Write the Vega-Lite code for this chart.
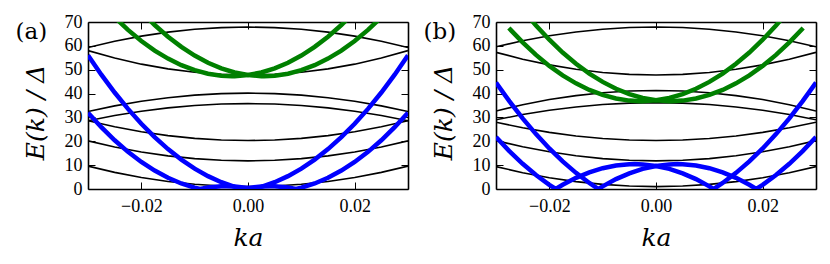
{
  "$schema": "https://vega.github.io/schema/vega-lite/v6.json",
  "padding": {"left": 15, "top": 13, "right": 5, "bottom": 5},
  "background": "white",
  "data": {"values": [
    {"p":"a","f":"bulk","c":"B1","k":-0.03,"E":9.6},{"p":"a","f":"bulk","c":"B1","k":-0.025,"E":6.97},{"p":"a","f":"bulk","c":"B1","k":-0.02,"E":4.82},{"p":"a","f":"bulk","c":"B1","k":-0.015,"E":3.15},{"p":"a","f":"bulk","c":"B1","k":-0.01,"E":1.96},{"p":"a","f":"bulk","c":"B1","k":-0.005,"E":1.24},{"p":"a","f":"bulk","c":"B1","k":0,"E":1.0},{"p":"a","f":"bulk","c":"B1","k":0.005,"E":1.24},{"p":"a","f":"bulk","c":"B1","k":0.01,"E":1.96},{"p":"a","f":"bulk","c":"B1","k":0.015,"E":3.15},{"p":"a","f":"bulk","c":"B1","k":0.02,"E":4.82},{"p":"a","f":"bulk","c":"B1","k":0.025,"E":6.97},{"p":"a","f":"bulk","c":"B1","k":0.03,"E":9.6},
    {"p":"a","f":"bulk","c":"B2","k":-0.03,"E":20.2},{"p":"a","f":"bulk","c":"B2","k":-0.025,"E":17.63},{"p":"a","f":"bulk","c":"B2","k":-0.02,"E":15.53},{"p":"a","f":"bulk","c":"B2","k":-0.015,"E":13.9},{"p":"a","f":"bulk","c":"B2","k":-0.01,"E":12.73},{"p":"a","f":"bulk","c":"B2","k":-0.005,"E":12.03},{"p":"a","f":"bulk","c":"B2","k":0,"E":11.8},{"p":"a","f":"bulk","c":"B2","k":0.005,"E":12.03},{"p":"a","f":"bulk","c":"B2","k":0.01,"E":12.73},{"p":"a","f":"bulk","c":"B2","k":0.015,"E":13.9},{"p":"a","f":"bulk","c":"B2","k":0.02,"E":15.53},{"p":"a","f":"bulk","c":"B2","k":0.025,"E":17.63},{"p":"a","f":"bulk","c":"B2","k":0.03,"E":20.2},
    {"p":"a","f":"bulk","c":"B3","k":-0.03,"E":28.6},{"p":"a","f":"bulk","c":"B3","k":-0.025,"E":26.06},{"p":"a","f":"bulk","c":"B3","k":-0.02,"E":23.99},{"p":"a","f":"bulk","c":"B3","k":-0.015,"E":22.38},{"p":"a","f":"bulk","c":"B3","k":-0.01,"E":21.22},{"p":"a","f":"bulk","c":"B3","k":-0.005,"E":20.53},{"p":"a","f":"bulk","c":"B3","k":0,"E":20.3},{"p":"a","f":"bulk","c":"B3","k":0.005,"E":20.53},{"p":"a","f":"bulk","c":"B3","k":0.01,"E":21.22},{"p":"a","f":"bulk","c":"B3","k":0.015,"E":22.38},{"p":"a","f":"bulk","c":"B3","k":0.02,"E":23.99},{"p":"a","f":"bulk","c":"B3","k":0.025,"E":26.06},{"p":"a","f":"bulk","c":"B3","k":0.03,"E":28.6},
    {"p":"a","f":"bulk","c":"B4","k":-0.03,"E":28.6},{"p":"a","f":"bulk","c":"B4","k":-0.025,"E":30.8},{"p":"a","f":"bulk","c":"B4","k":-0.02,"E":32.6},{"p":"a","f":"bulk","c":"B4","k":-0.015,"E":34.0},{"p":"a","f":"bulk","c":"B4","k":-0.01,"E":35.0},{"p":"a","f":"bulk","c":"B4","k":-0.005,"E":35.6},{"p":"a","f":"bulk","c":"B4","k":0,"E":35.8},{"p":"a","f":"bulk","c":"B4","k":0.005,"E":35.6},{"p":"a","f":"bulk","c":"B4","k":0.01,"E":35.0},{"p":"a","f":"bulk","c":"B4","k":0.015,"E":34.0},{"p":"a","f":"bulk","c":"B4","k":0.02,"E":32.6},{"p":"a","f":"bulk","c":"B4","k":0.025,"E":30.8},{"p":"a","f":"bulk","c":"B4","k":0.03,"E":28.6},
    {"p":"a","f":"bulk","c":"B5","k":-0.03,"E":32.5},{"p":"a","f":"bulk","c":"B5","k":-0.025,"E":34.85},{"p":"a","f":"bulk","c":"B5","k":-0.02,"E":36.78},{"p":"a","f":"bulk","c":"B5","k":-0.015,"E":38.28},{"p":"a","f":"bulk","c":"B5","k":-0.01,"E":39.34},{"p":"a","f":"bulk","c":"B5","k":-0.005,"E":39.99},{"p":"a","f":"bulk","c":"B5","k":0,"E":40.2},{"p":"a","f":"bulk","c":"B5","k":0.005,"E":39.99},{"p":"a","f":"bulk","c":"B5","k":0.01,"E":39.34},{"p":"a","f":"bulk","c":"B5","k":0.015,"E":38.28},{"p":"a","f":"bulk","c":"B5","k":0.02,"E":36.78},{"p":"a","f":"bulk","c":"B5","k":0.025,"E":34.85},{"p":"a","f":"bulk","c":"B5","k":0.03,"E":32.5},
    {"p":"a","f":"bulk","c":"B6","k":-0.03,"E":58.0},{"p":"a","f":"bulk","c":"B6","k":-0.025,"E":54.88},{"p":"a","f":"bulk","c":"B6","k":-0.02,"E":52.33},{"p":"a","f":"bulk","c":"B6","k":-0.015,"E":50.35},{"p":"a","f":"bulk","c":"B6","k":-0.01,"E":48.93},{"p":"a","f":"bulk","c":"B6","k":-0.005,"E":48.08},{"p":"a","f":"bulk","c":"B6","k":0,"E":47.8},{"p":"a","f":"bulk","c":"B6","k":0.005,"E":48.08},{"p":"a","f":"bulk","c":"B6","k":0.01,"E":48.93},{"p":"a","f":"bulk","c":"B6","k":0.015,"E":50.35},{"p":"a","f":"bulk","c":"B6","k":0.02,"E":52.33},{"p":"a","f":"bulk","c":"B6","k":0.025,"E":54.88},{"p":"a","f":"bulk","c":"B6","k":0.03,"E":58.0},
    {"p":"a","f":"bulk","c":"B7","k":-0.03,"E":59.3},{"p":"a","f":"bulk","c":"B7","k":-0.025,"E":61.93},{"p":"a","f":"bulk","c":"B7","k":-0.02,"E":64.08},{"p":"a","f":"bulk","c":"B7","k":-0.015,"E":65.75},{"p":"a","f":"bulk","c":"B7","k":-0.01,"E":66.94},{"p":"a","f":"bulk","c":"B7","k":-0.005,"E":67.66},{"p":"a","f":"bulk","c":"B7","k":0,"E":67.9},{"p":"a","f":"bulk","c":"B7","k":0.005,"E":67.66},{"p":"a","f":"bulk","c":"B7","k":0.01,"E":66.94},{"p":"a","f":"bulk","c":"B7","k":0.015,"E":65.75},{"p":"a","f":"bulk","c":"B7","k":0.02,"E":64.08},{"p":"a","f":"bulk","c":"B7","k":0.025,"E":61.93},{"p":"a","f":"bulk","c":"B7","k":0.03,"E":59.3},
    {"p":"b","f":"bulk","c":"B1","k":-0.03,"E":9.4},{"p":"b","f":"bulk","c":"B1","k":-0.025,"E":6.83},{"p":"b","f":"bulk","c":"B1","k":-0.02,"E":4.73},{"p":"b","f":"bulk","c":"B1","k":-0.015,"E":3.1},{"p":"b","f":"bulk","c":"B1","k":-0.01,"E":1.93},{"p":"b","f":"bulk","c":"B1","k":-0.005,"E":1.23},{"p":"b","f":"bulk","c":"B1","k":0,"E":1.0},{"p":"b","f":"bulk","c":"B1","k":0.005,"E":1.23},{"p":"b","f":"bulk","c":"B1","k":0.01,"E":1.93},{"p":"b","f":"bulk","c":"B1","k":0.015,"E":3.1},{"p":"b","f":"bulk","c":"B1","k":0.02,"E":4.73},{"p":"b","f":"bulk","c":"B1","k":0.025,"E":6.83},{"p":"b","f":"bulk","c":"B1","k":0.03,"E":9.4},
    {"p":"b","f":"bulk","c":"B2","k":-0.03,"E":20.3},{"p":"b","f":"bulk","c":"B2","k":-0.025,"E":17.7},{"p":"b","f":"bulk","c":"B2","k":-0.02,"E":15.58},{"p":"b","f":"bulk","c":"B2","k":-0.015,"E":13.93},{"p":"b","f":"bulk","c":"B2","k":-0.01,"E":12.74},{"p":"b","f":"bulk","c":"B2","k":-0.005,"E":12.04},{"p":"b","f":"bulk","c":"B2","k":0,"E":11.8},{"p":"b","f":"bulk","c":"B2","k":0.005,"E":12.04},{"p":"b","f":"bulk","c":"B2","k":0.01,"E":12.74},{"p":"b","f":"bulk","c":"B2","k":0.015,"E":13.93},{"p":"b","f":"bulk","c":"B2","k":0.02,"E":15.58},{"p":"b","f":"bulk","c":"B2","k":0.025,"E":17.7},{"p":"b","f":"bulk","c":"B2","k":0.03,"E":20.3},
    {"p":"b","f":"bulk","c":"B3","k":-0.03,"E":28.0},{"p":"b","f":"bulk","c":"B3","k":-0.025,"E":25.65},{"p":"b","f":"bulk","c":"B3","k":-0.02,"E":23.72},{"p":"b","f":"bulk","c":"B3","k":-0.015,"E":22.23},{"p":"b","f":"bulk","c":"B3","k":-0.01,"E":21.16},{"p":"b","f":"bulk","c":"B3","k":-0.005,"E":20.51},{"p":"b","f":"bulk","c":"B3","k":0,"E":20.3},{"p":"b","f":"bulk","c":"B3","k":0.005,"E":20.51},{"p":"b","f":"bulk","c":"B3","k":0.01,"E":21.16},{"p":"b","f":"bulk","c":"B3","k":0.015,"E":22.23},{"p":"b","f":"bulk","c":"B3","k":0.02,"E":23.72},{"p":"b","f":"bulk","c":"B3","k":0.025,"E":25.65},{"p":"b","f":"bulk","c":"B3","k":0.03,"E":28.0},
    {"p":"b","f":"bulk","c":"B4","k":-0.03,"E":29.0},{"p":"b","f":"bulk","c":"B4","k":-0.025,"E":31.2},{"p":"b","f":"bulk","c":"B4","k":-0.02,"E":33.0},{"p":"b","f":"bulk","c":"B4","k":-0.015,"E":34.4},{"p":"b","f":"bulk","c":"B4","k":-0.01,"E":35.4},{"p":"b","f":"bulk","c":"B4","k":-0.005,"E":36.0},{"p":"b","f":"bulk","c":"B4","k":0,"E":36.2},{"p":"b","f":"bulk","c":"B4","k":0.005,"E":36.0},{"p":"b","f":"bulk","c":"B4","k":0.01,"E":35.4},{"p":"b","f":"bulk","c":"B4","k":0.015,"E":34.4},{"p":"b","f":"bulk","c":"B4","k":0.02,"E":33.0},{"p":"b","f":"bulk","c":"B4","k":0.025,"E":31.2},{"p":"b","f":"bulk","c":"B4","k":0.03,"E":29.0},
    {"p":"b","f":"bulk","c":"B5","k":-0.03,"E":32.7},{"p":"b","f":"bulk","c":"B5","k":-0.025,"E":35.33},{"p":"b","f":"bulk","c":"B5","k":-0.02,"E":37.48},{"p":"b","f":"bulk","c":"B5","k":-0.015,"E":39.15},{"p":"b","f":"bulk","c":"B5","k":-0.01,"E":40.34},{"p":"b","f":"bulk","c":"B5","k":-0.005,"E":41.06},{"p":"b","f":"bulk","c":"B5","k":0,"E":41.3},{"p":"b","f":"bulk","c":"B5","k":0.005,"E":41.06},{"p":"b","f":"bulk","c":"B5","k":0.01,"E":40.34},{"p":"b","f":"bulk","c":"B5","k":0.015,"E":39.15},{"p":"b","f":"bulk","c":"B5","k":0.02,"E":37.48},{"p":"b","f":"bulk","c":"B5","k":0.025,"E":35.33},{"p":"b","f":"bulk","c":"B5","k":0.03,"E":32.7},
    {"p":"b","f":"bulk","c":"B6","k":-0.03,"E":57.3},{"p":"b","f":"bulk","c":"B6","k":-0.025,"E":54.4},{"p":"b","f":"bulk","c":"B6","k":-0.02,"E":52.02},{"p":"b","f":"bulk","c":"B6","k":-0.015,"E":50.18},{"p":"b","f":"bulk","c":"B6","k":-0.01,"E":48.86},{"p":"b","f":"bulk","c":"B6","k":-0.005,"E":48.06},{"p":"b","f":"bulk","c":"B6","k":0,"E":47.8},{"p":"b","f":"bulk","c":"B6","k":0.005,"E":48.06},{"p":"b","f":"bulk","c":"B6","k":0.01,"E":48.86},{"p":"b","f":"bulk","c":"B6","k":0.015,"E":50.18},{"p":"b","f":"bulk","c":"B6","k":0.02,"E":52.02},{"p":"b","f":"bulk","c":"B6","k":0.025,"E":54.4},{"p":"b","f":"bulk","c":"B6","k":0.03,"E":57.3},
    {"p":"b","f":"bulk","c":"B7","k":-0.03,"E":59.6},{"p":"b","f":"bulk","c":"B7","k":-0.025,"E":62.14},{"p":"b","f":"bulk","c":"B7","k":-0.02,"E":64.21},{"p":"b","f":"bulk","c":"B7","k":-0.015,"E":65.83},{"p":"b","f":"bulk","c":"B7","k":-0.01,"E":66.98},{"p":"b","f":"bulk","c":"B7","k":-0.005,"E":67.67},{"p":"b","f":"bulk","c":"B7","k":0,"E":67.9},{"p":"b","f":"bulk","c":"B7","k":0.005,"E":67.67},{"p":"b","f":"bulk","c":"B7","k":0.01,"E":66.98},{"p":"b","f":"bulk","c":"B7","k":0.015,"E":65.83},{"p":"b","f":"bulk","c":"B7","k":0.02,"E":64.21},{"p":"b","f":"bulk","c":"B7","k":0.025,"E":62.14},{"p":"b","f":"bulk","c":"B7","k":0.03,"E":59.6},

    {"p":"a","f":"low","c":"L1","k":-0.03,"E":56.0},{"p":"a","f":"low","c":"L1","k":-0.0275,"E":47.91},{"p":"a","f":"low","c":"L1","k":-0.025,"E":40.44},{"p":"a","f":"low","c":"L1","k":-0.0225,"E":33.58},{"p":"a","f":"low","c":"L1","k":-0.02,"E":27.34},{"p":"a","f":"low","c":"L1","k":-0.0175,"E":21.71},{"p":"a","f":"low","c":"L1","k":-0.015,"E":16.71},{"p":"a","f":"low","c":"L1","k":-0.0125,"E":12.32},{"p":"a","f":"low","c":"L1","k":-0.01,"E":8.54},{"p":"a","f":"low","c":"L1","k":-0.0075,"E":5.38},{"p":"a","f":"low","c":"L1","k":-0.005,"E":2.84},{"p":"a","f":"low","c":"L1","k":-0.0025,"E":0.92},{"p":"a","f":"low","c":"L1","k":-0.0009,"E":0},{"p":"a","f":"low","c":"L1","k":0,"E":0.39},{"p":"a","f":"low","c":"L1","k":0.0025,"E":1.08},{"p":"a","f":"low","c":"L1","k":0.004,"E":1.2},{"p":"a","f":"low","c":"L1","k":0.005,"E":1.16},{"p":"a","f":"low","c":"L1","k":0.0075,"E":0.62},{"p":"a","f":"low","c":"L1","k":0.009,"E":0},{"p":"a","f":"low","c":"L1","k":0.01,"E":0.54},{"p":"a","f":"low","c":"L1","k":0.0125,"E":2.32},{"p":"a","f":"low","c":"L1","k":0.015,"E":4.71},{"p":"a","f":"low","c":"L1","k":0.0175,"E":7.71},{"p":"a","f":"low","c":"L1","k":0.02,"E":11.34},{"p":"a","f":"low","c":"L1","k":0.0225,"E":15.58},{"p":"a","f":"low","c":"L1","k":0.025,"E":20.44},{"p":"a","f":"low","c":"L1","k":0.0275,"E":25.91},{"p":"a","f":"low","c":"L1","k":0.03,"E":32.0},
    {"p":"a","f":"low","c":"L2","k":-0.03,"E":32.0},{"p":"a","f":"low","c":"L2","k":-0.0275,"E":25.91},{"p":"a","f":"low","c":"L2","k":-0.025,"E":20.44},{"p":"a","f":"low","c":"L2","k":-0.0225,"E":15.58},{"p":"a","f":"low","c":"L2","k":-0.02,"E":11.34},{"p":"a","f":"low","c":"L2","k":-0.0175,"E":7.71},{"p":"a","f":"low","c":"L2","k":-0.015,"E":4.71},{"p":"a","f":"low","c":"L2","k":-0.0125,"E":2.32},{"p":"a","f":"low","c":"L2","k":-0.01,"E":0.54},{"p":"a","f":"low","c":"L2","k":-0.009,"E":0},{"p":"a","f":"low","c":"L2","k":-0.0075,"E":0.62},{"p":"a","f":"low","c":"L2","k":-0.005,"E":1.16},{"p":"a","f":"low","c":"L2","k":-0.004,"E":1.2},{"p":"a","f":"low","c":"L2","k":-0.0025,"E":1.08},{"p":"a","f":"low","c":"L2","k":0,"E":0.39},{"p":"a","f":"low","c":"L2","k":0.0009,"E":0},{"p":"a","f":"low","c":"L2","k":0.0025,"E":0.92},{"p":"a","f":"low","c":"L2","k":0.005,"E":2.84},{"p":"a","f":"low","c":"L2","k":0.0075,"E":5.38},{"p":"a","f":"low","c":"L2","k":0.01,"E":8.54},{"p":"a","f":"low","c":"L2","k":0.0125,"E":12.32},{"p":"a","f":"low","c":"L2","k":0.015,"E":16.71},{"p":"a","f":"low","c":"L2","k":0.0175,"E":21.71},{"p":"a","f":"low","c":"L2","k":0.02,"E":27.34},{"p":"a","f":"low","c":"L2","k":0.0225,"E":33.58},{"p":"a","f":"low","c":"L2","k":0.025,"E":40.44},{"p":"a","f":"low","c":"L2","k":0.0275,"E":47.91},{"p":"a","f":"low","c":"L2","k":0.03,"E":56.0},
    {"p":"b","f":"low","c":"L1","k":-0.03,"E":44.6},{"p":"b","f":"low","c":"L1","k":-0.0275,"E":36.81},{"p":"b","f":"low","c":"L1","k":-0.025,"E":29.61},{"p":"b","f":"low","c":"L1","k":-0.0225,"E":23.0},{"p":"b","f":"low","c":"L1","k":-0.02,"E":16.99},{"p":"b","f":"low","c":"L1","k":-0.0175,"E":11.58},{"p":"b","f":"low","c":"L1","k":-0.015,"E":6.76},{"p":"b","f":"low","c":"L1","k":-0.0125,"E":2.53},{"p":"b","f":"low","c":"L1","k":-0.0108,"E":0},{"p":"b","f":"low","c":"L1","k":-0.01,"E":1.1},{"p":"b","f":"low","c":"L1","k":-0.0075,"E":4.13},{"p":"b","f":"low","c":"L1","k":-0.005,"E":6.57},{"p":"b","f":"low","c":"L1","k":-0.0025,"E":8.42},{"p":"b","f":"low","c":"L1","k":0,"E":9.67},{"p":"b","f":"low","c":"L1","k":0.0025,"E":10.32},{"p":"b","f":"low","c":"L1","k":0.004,"E":10.43},{"p":"b","f":"low","c":"L1","k":0.005,"E":10.38},{"p":"b","f":"low","c":"L1","k":0.0075,"E":9.85},{"p":"b","f":"low","c":"L1","k":0.01,"E":8.72},{"p":"b","f":"low","c":"L1","k":0.0125,"E":6.99},{"p":"b","f":"low","c":"L1","k":0.015,"E":4.67},{"p":"b","f":"low","c":"L1","k":0.0175,"E":1.75},{"p":"b","f":"low","c":"L1","k":0.0188,"E":0},{"p":"b","f":"low","c":"L1","k":0.02,"E":1.76},{"p":"b","f":"low","c":"L1","k":0.0225,"E":5.87},{"p":"b","f":"low","c":"L1","k":0.025,"E":10.57},{"p":"b","f":"low","c":"L1","k":0.0275,"E":15.87},{"p":"b","f":"low","c":"L1","k":0.03,"E":21.76},
    {"p":"b","f":"low","c":"L2","k":-0.03,"E":21.76},{"p":"b","f":"low","c":"L2","k":-0.0275,"E":15.87},{"p":"b","f":"low","c":"L2","k":-0.025,"E":10.57},{"p":"b","f":"low","c":"L2","k":-0.0225,"E":5.87},{"p":"b","f":"low","c":"L2","k":-0.02,"E":1.76},{"p":"b","f":"low","c":"L2","k":-0.0188,"E":0},{"p":"b","f":"low","c":"L2","k":-0.0175,"E":1.75},{"p":"b","f":"low","c":"L2","k":-0.015,"E":4.67},{"p":"b","f":"low","c":"L2","k":-0.0125,"E":6.99},{"p":"b","f":"low","c":"L2","k":-0.01,"E":8.72},{"p":"b","f":"low","c":"L2","k":-0.0075,"E":9.85},{"p":"b","f":"low","c":"L2","k":-0.005,"E":10.38},{"p":"b","f":"low","c":"L2","k":-0.004,"E":10.43},{"p":"b","f":"low","c":"L2","k":-0.0025,"E":10.32},{"p":"b","f":"low","c":"L2","k":0,"E":9.67},{"p":"b","f":"low","c":"L2","k":0.0025,"E":8.42},{"p":"b","f":"low","c":"L2","k":0.005,"E":6.57},{"p":"b","f":"low","c":"L2","k":0.0075,"E":4.13},{"p":"b","f":"low","c":"L2","k":0.01,"E":1.1},{"p":"b","f":"low","c":"L2","k":0.0108,"E":0},{"p":"b","f":"low","c":"L2","k":0.0125,"E":2.53},{"p":"b","f":"low","c":"L2","k":0.015,"E":6.76},{"p":"b","f":"low","c":"L2","k":0.0175,"E":11.58},{"p":"b","f":"low","c":"L2","k":0.02,"E":16.99},{"p":"b","f":"low","c":"L2","k":0.0225,"E":23.0},{"p":"b","f":"low","c":"L2","k":0.025,"E":29.61},{"p":"b","f":"low","c":"L2","k":0.0275,"E":36.81},{"p":"b","f":"low","c":"L2","k":0.03,"E":44.6},

    {"p":"a","f":"high","c":"H1","k":-0.0275,"E":77.92},{"p":"a","f":"high","c":"H1","k":-0.025,"E":71.99},{"p":"a","f":"high","c":"H1","k":-0.0225,"E":66.7},{"p":"a","f":"high","c":"H1","k":-0.02,"E":62.04},{"p":"a","f":"high","c":"H1","k":-0.0175,"E":58.03},{"p":"a","f":"high","c":"H1","k":-0.015,"E":54.65},{"p":"a","f":"high","c":"H1","k":-0.0125,"E":51.9},{"p":"a","f":"high","c":"H1","k":-0.01,"E":49.8},{"p":"a","f":"high","c":"H1","k":-0.0075,"E":48.33},{"p":"a","f":"high","c":"H1","k":-0.005,"E":47.5},{"p":"a","f":"high","c":"H1","k":-0.003,"E":47.3},{"p":"a","f":"high","c":"H1","k":-0.0025,"E":47.31},{"p":"a","f":"high","c":"H1","k":0,"E":47.76},{"p":"a","f":"high","c":"H1","k":0.0025,"E":48.84},{"p":"a","f":"high","c":"H1","k":0.005,"E":50.57},{"p":"a","f":"high","c":"H1","k":0.0075,"E":52.92},{"p":"a","f":"high","c":"H1","k":0.01,"E":55.92},{"p":"a","f":"high","c":"H1","k":0.0125,"E":59.56},{"p":"a","f":"high","c":"H1","k":0.015,"E":63.83},{"p":"a","f":"high","c":"H1","k":0.0175,"E":68.74},{"p":"a","f":"high","c":"H1","k":0.02,"E":74.29},
    {"p":"a","f":"high","c":"H2","k":-0.02,"E":74.29},{"p":"a","f":"high","c":"H2","k":-0.0175,"E":68.74},{"p":"a","f":"high","c":"H2","k":-0.015,"E":63.83},{"p":"a","f":"high","c":"H2","k":-0.0125,"E":59.56},{"p":"a","f":"high","c":"H2","k":-0.01,"E":55.92},{"p":"a","f":"high","c":"H2","k":-0.0075,"E":52.92},{"p":"a","f":"high","c":"H2","k":-0.005,"E":50.57},{"p":"a","f":"high","c":"H2","k":-0.0025,"E":48.84},{"p":"a","f":"high","c":"H2","k":0,"E":47.76},{"p":"a","f":"high","c":"H2","k":0.0025,"E":47.31},{"p":"a","f":"high","c":"H2","k":0.003,"E":47.3},{"p":"a","f":"high","c":"H2","k":0.005,"E":47.5},{"p":"a","f":"high","c":"H2","k":0.0075,"E":48.33},{"p":"a","f":"high","c":"H2","k":0.01,"E":49.8},{"p":"a","f":"high","c":"H2","k":0.0125,"E":51.9},{"p":"a","f":"high","c":"H2","k":0.015,"E":54.65},{"p":"a","f":"high","c":"H2","k":0.0175,"E":58.03},{"p":"a","f":"high","c":"H2","k":0.02,"E":62.04},{"p":"a","f":"high","c":"H2","k":0.0225,"E":66.7},{"p":"a","f":"high","c":"H2","k":0.025,"E":71.99},{"p":"a","f":"high","c":"H2","k":0.0275,"E":77.92},
    {"p":"b","f":"high","c":"H1","k":-0.0273,"E":66.8},{"p":"b","f":"high","c":"H1","k":-0.025,"E":61.44},{"p":"b","f":"high","c":"H1","k":-0.0225,"E":56.21},{"p":"b","f":"high","c":"H1","k":-0.02,"E":51.61},{"p":"b","f":"high","c":"H1","k":-0.0175,"E":47.63},{"p":"b","f":"high","c":"H1","k":-0.015,"E":44.27},{"p":"b","f":"high","c":"H1","k":-0.0125,"E":41.53},{"p":"b","f":"high","c":"H1","k":-0.01,"E":39.42},{"p":"b","f":"high","c":"H1","k":-0.0075,"E":37.92},{"p":"b","f":"high","c":"H1","k":-0.005,"E":37.05},{"p":"b","f":"high","c":"H1","k":-0.00275,"E":36.8},{"p":"b","f":"high","c":"H1","k":0,"E":37.18},{"p":"b","f":"high","c":"H1","k":0.0025,"E":38.17},{"p":"b","f":"high","c":"H1","k":0.005,"E":39.79},{"p":"b","f":"high","c":"H1","k":0.0075,"E":42.03},{"p":"b","f":"high","c":"H1","k":0.01,"E":44.89},{"p":"b","f":"high","c":"H1","k":0.0125,"E":48.37},{"p":"b","f":"high","c":"H1","k":0.015,"E":52.48},{"p":"b","f":"high","c":"H1","k":0.0175,"E":57.21},{"p":"b","f":"high","c":"H1","k":0.02,"E":62.56},{"p":"b","f":"high","c":"H1","k":0.0225,"E":68.53},{"p":"b","f":"high","c":"H1","k":0.025,"E":75.13},
    {"p":"b","f":"high","c":"H2","k":-0.025,"E":75.13},{"p":"b","f":"high","c":"H2","k":-0.0225,"E":68.53},{"p":"b","f":"high","c":"H2","k":-0.02,"E":62.56},{"p":"b","f":"high","c":"H2","k":-0.0175,"E":57.21},{"p":"b","f":"high","c":"H2","k":-0.015,"E":52.48},{"p":"b","f":"high","c":"H2","k":-0.0125,"E":48.37},{"p":"b","f":"high","c":"H2","k":-0.01,"E":44.89},{"p":"b","f":"high","c":"H2","k":-0.0075,"E":42.03},{"p":"b","f":"high","c":"H2","k":-0.005,"E":39.79},{"p":"b","f":"high","c":"H2","k":-0.0025,"E":38.17},{"p":"b","f":"high","c":"H2","k":0,"E":37.18},{"p":"b","f":"high","c":"H2","k":0.00275,"E":36.8},{"p":"b","f":"high","c":"H2","k":0.005,"E":37.05},{"p":"b","f":"high","c":"H2","k":0.0075,"E":37.92},{"p":"b","f":"high","c":"H2","k":0.01,"E":39.42},{"p":"b","f":"high","c":"H2","k":0.0125,"E":41.53},{"p":"b","f":"high","c":"H2","k":0.015,"E":44.27},{"p":"b","f":"high","c":"H2","k":0.0175,"E":47.63},{"p":"b","f":"high","c":"H2","k":0.02,"E":51.61},{"p":"b","f":"high","c":"H2","k":0.0225,"E":56.21},{"p":"b","f":"high","c":"H2","k":0.025,"E":61.44},{"p":"b","f":"high","c":"H2","k":0.0273,"E":66.8}
  ]},
  "hconcat": [
    {
      "width": 320, "height": 167,
      "transform": [{"filter": "datum.p === 'a'"}],
      "layer": [
        {"transform": [{"filter": "datum.f === 'bulk'"}],
         "mark": {"type": "line", "color": "#000000", "strokeWidth": 1.6, "clip": true},
         "encoding": {
           "x": {"field": "k", "type": "quantitative", "scale": {"domain": [-0.03, 0.03], "nice": false, "zero": false},
                 "axis": {"orient": "bottom", "values": [-0.02, 0, 0.02], "format": ".2f", "title": "ka", "labelPadding": 15,
                          "titleX": 160, "titleY": 56, "titleBaseline": "alphabetic", "titleAlign": "center", "titleFontSize": 25, "titleFontStyle": "italic"}},
           "y": {"field": "E", "type": "quantitative", "scale": {"domain": [0, 70], "nice": false},
                 "axis": {"orient": "left", "values": [0, 10, 20, 30, 40, 50, 60, 70], "title": "E(k) / Δ", "labelPadding": 13,
                          "titleX": -53, "titleY": 90, "titleAngle": 270, "titleBaseline": "middle", "titleAlign": "center", "titleFontSize": 25, "titleFontStyle": "italic"}},
           "detail": {"field": "c"}
         }},
        {"transform": [{"filter": "datum.f === 'low'"}],
         "mark": {"type": "line", "color": "#0000ff", "strokeWidth": 4.5, "clip": true},
         "encoding": {
           "x": {"field": "k", "type": "quantitative", "axis": {"orient": "top", "values": [-0.02, 0, 0.02], "labels": false, "title": null}},
           "y": {"field": "E", "type": "quantitative", "axis": {"orient": "right", "values": [0, 10, 20, 30, 40, 50, 60, 70], "labels": false, "title": null}},
           "detail": {"field": "c"}
         }},
        {"transform": [{"filter": "datum.f === 'high'"}],
         "mark": {"type": "line", "color": "#008000", "strokeWidth": 4.5, "strokeCap": "square", "clip": true},
         "encoding": {
           "x": {"field": "k", "type": "quantitative", "axis": null},
           "y": {"field": "E", "type": "quantitative", "axis": {"orient": "left", "labels": false, "ticks": false, "domain": false, "title": "(a)",
                 "titleX": -73, "titleY": 9, "titleAngle": 0, "titleAlign": "left", "titleBaseline": "middle", "titleFontSize": 23, "titleFontStyle": "normal"}},
           "detail": {"field": "c"}
         }}
      ],
      "resolve": {"axis": {"x": "independent", "y": "independent"}}
    },
    {
      "width": 320, "height": 167,
      "transform": [{"filter": "datum.p === 'b'"}],
      "layer": [
        {"transform": [{"filter": "datum.f === 'bulk'"}],
         "mark": {"type": "line", "color": "#000000", "strokeWidth": 1.6, "clip": true},
         "encoding": {
           "x": {"field": "k", "type": "quantitative", "scale": {"domain": [-0.03, 0.03], "nice": false, "zero": false},
                 "axis": {"orient": "bottom", "values": [-0.02, 0, 0.02], "format": ".2f", "title": "ka", "labelPadding": 15,
                          "titleX": 160, "titleY": 56, "titleBaseline": "alphabetic", "titleAlign": "center", "titleFontSize": 25, "titleFontStyle": "italic"}},
           "y": {"field": "E", "type": "quantitative", "scale": {"domain": [0, 70], "nice": false},
                 "axis": {"orient": "left", "values": [0, 10, 20, 30, 40, 50, 60, 70], "title": "E(k) / Δ", "labelPadding": 13,
                          "titleX": -53, "titleY": 90, "titleAngle": 270, "titleBaseline": "middle", "titleAlign": "center", "titleFontSize": 25, "titleFontStyle": "italic"}},
           "detail": {"field": "c"}
         }},
        {"transform": [{"filter": "datum.f === 'low'"}],
         "mark": {"type": "line", "color": "#0000ff", "strokeWidth": 4.5, "clip": true},
         "encoding": {
           "x": {"field": "k", "type": "quantitative", "axis": {"orient": "top", "values": [-0.02, 0, 0.02], "labels": false, "title": null}},
           "y": {"field": "E", "type": "quantitative", "axis": {"orient": "right", "values": [0, 10, 20, 30, 40, 50, 60, 70], "labels": false, "title": null}},
           "detail": {"field": "c"}
         }},
        {"transform": [{"filter": "datum.f === 'high'"}],
         "mark": {"type": "line", "color": "#008000", "strokeWidth": 4.5, "strokeCap": "square", "clip": true},
         "encoding": {
           "x": {"field": "k", "type": "quantitative", "axis": null},
           "y": {"field": "E", "type": "quantitative", "axis": {"orient": "left", "labels": false, "ticks": false, "domain": false, "title": "(b)",
                 "titleX": -73, "titleY": 9, "titleAngle": 0, "titleAlign": "left", "titleBaseline": "middle", "titleFontSize": 23, "titleFontStyle": "normal"}},
           "detail": {"field": "c"}
         }}
      ],
      "resolve": {"axis": {"x": "independent", "y": "independent"}}
    }
  ],
  "spacing": 88,
  "bounds": "flush",
  "config": {
    "view": {"stroke": null},
    "axis": {
      "grid": false, "domainColor": "#000000", "domainWidth": 1.6, "tickColor": "#000000", "tickWidth": 1, "tickSize": -7,
      "labelFont": "Liberation Serif", "labelFontSize": 18, "labelColor": "#000000",
      "titleFont": "DejaVu Serif", "titleFontWeight": "normal", "titleColor": "#000000", "zindex": 1
    }
  }
}
